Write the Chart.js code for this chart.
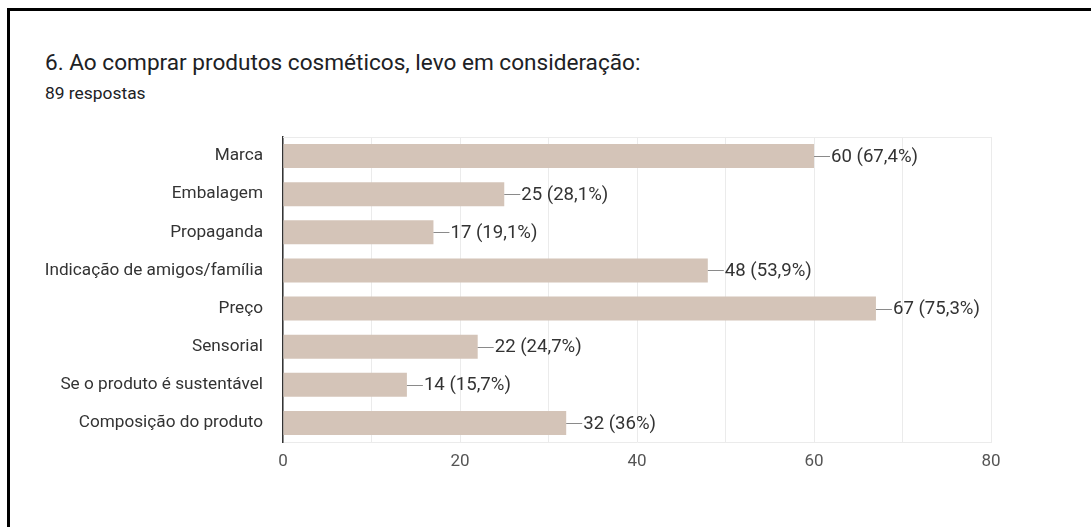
<!DOCTYPE html>
<html>
<head>
<meta charset="utf-8">
<script src="https://cdn.jsdelivr.net/npm/chart.js@4.4.1/dist/chart.umd.min.js"></script>
<style>
  html, body { margin:0; padding:0; width:1091px; height:527px; overflow:hidden; background:#fff; }
  #frame { position:absolute; left:7px; top:8px; width:1084px; height:519px; border-top:3px solid #000; border-left:3px solid #000; box-sizing:border-box; }
  #title { position:absolute; left:45px; top:49px; font-family:Roboto, sans-serif; font-size:22.6px; color:#202124; white-space:nowrap; }
  #sub { position:absolute; left:45px; top:83px; font-family:Roboto, sans-serif; font-size:17.4px; color:#202124; white-space:nowrap; }
  #wrap { position:absolute; left:0; top:0; width:1091px; height:527px; }
</style>
</head>
<body>
<div id="frame"></div>
<div id="title">6. Ao comprar produtos cosméticos, levo em consideração:</div>
<div id="sub">89 respostas</div>
<div id="wrap"><canvas id="c"></canvas></div>
<script>
const categories = ["Marca", "Embalagem", "Propaganda", "Indicação de amigos/família", "Preço", "Sensorial", "Se o produto é sustentável", "Composição do produto"];
const counts = [60, 25, 17, 48, 67, 22, 14, 32];
const percents = ["67,4%", "28,1%", "19,1%", "53,9%", "75,3%", "24,7%", "15,7%", "36%"];
const xTickValues = [0, 20, 40, 60, 80];

const FONT = "Roboto, sans-serif";

const valueLabels = {
  id: 'valueLabels',
  afterDatasetsDraw(chart) {
    const ctx = chart.ctx;
    const meta = chart.getDatasetMeta(0);
    ctx.save();
    ctx.font = "18.6px " + FONT;
    ctx.textBaseline = 'middle';
    ctx.textAlign = 'left';
    meta.data.forEach((bar, i) => {
      const x = bar.x, y = bar.y;
      ctx.strokeStyle = '#8a8a8a';
      ctx.lineWidth = 1;
      ctx.beginPath();
      ctx.moveTo(x, Math.round(y) + 0.5);
      ctx.lineTo(x + 16, Math.round(y) + 0.5);
      ctx.stroke();
      ctx.fillStyle = '#333';
      ctx.fillText(counts[i] + " (" + percents[i] + ")", x + 17, y + 1);
    });
    ctx.restore();
  }
};

const frameBox = {
  id: 'frameBox',
  beforeDatasetsDraw(chart) {
    const a = chart.chartArea, ctx = chart.ctx;
    ctx.save();
    ctx.strokeStyle = '#ebebeb';
    ctx.lineWidth = 1;
    ctx.beginPath();
    ctx.moveTo(a.left, Math.round(a.top) + 0.5);
    ctx.lineTo(a.right, Math.round(a.top) + 0.5);
    ctx.stroke();
    ctx.restore();
  }
};

new Chart(document.getElementById('c'), {
  type: 'bar',
  data: {
    labels: categories,
    datasets: [{
      data: counts,
      backgroundColor: '#d4c4b8',
      borderWidth: 0,
      categoryPercentage: 1,
      barPercentage: 0.63
    }]
  },
  plugins: [frameBox, valueLabels],
  options: {
    indexAxis: 'y',
    responsive: true,
    maintainAspectRatio: false,
    animation: false,
    layout: { padding: { top: 137, right: 100, bottom: 55, left: 0 } },
    plugins: { legend: { display: false }, tooltip: { enabled: false }, title: { display: false } },
    scales: {
      x: {
        min: 0, max: 80,
        afterFit(s) { s.height = 30; },
        ticks: {
          stepSize: 10,
          autoSkip: false,
          maxRotation: 0,
          padding: 10,
          color: '#555',
          font: { family: FONT, size: 17 },
          callback: (v) => xTickValues.includes(v) ? String(v) : ''
        },
        grid: { color: '#ebebeb', drawTicks: false, lineWidth: 1 },
        border: { display: true, color: '#ebebeb' }
      },
      y: {
        afterFit(s) { s.width = 283; },
        ticks: { padding: 20, color: '#333', font: { family: FONT, size: 17.2 } },
        grid: { display: false, drawTicks: false },
        border: { display: true, color: '#333', width: 1.5 }
      }
    }
  }
});
</script>
</body>
</html>
